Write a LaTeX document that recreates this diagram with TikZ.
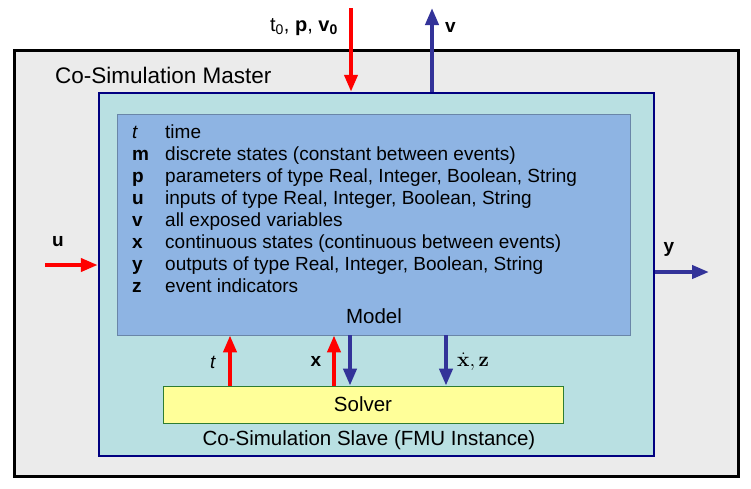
\documentclass[tikz,border=0pt]{standalone}
\usepackage{amsmath}
\usepackage[no-math]{fontspec}
\setmainfont{Liberation Sans}
\usepackage{tikz}
\usetikzlibrary{arrows.meta,positioning}
\definecolor{mastergray}{HTML}{EBEBEB}
\definecolor{slavecyan}{HTML}{B9E0E2}
\definecolor{slaveblue}{HTML}{000080}
\definecolor{modelblue}{HTML}{8EB4E3}
\definecolor{modelline}{HTML}{6A86A8}
\definecolor{solveryellow}{HTML}{FFFF99}
\definecolor{solvergreen}{HTML}{2E7D32}
\definecolor{arrowred}{HTML}{FF0000}
\definecolor{arrowblue}{HTML}{333399}
\tikzset{
    master-box/.style = {draw=black, fill=mastergray, line width=3pt, rectangle, minimum width=724pt, minimum height=426pt, inner sep=0pt},
    slave-box/.style = {draw=slaveblue, fill=slavecyan, line width=2.5pt, rectangle, minimum width=555pt, minimum height=363pt, inner sep=0pt},
    model-box/.style = {draw=modelline, fill=modelblue, line width=0.8pt, rectangle, minimum width=513pt, minimum height=221pt, inner sep=0pt},
    solver-box/.style = {draw=solvergreen, fill=solveryellow, line width=0.8pt, rectangle, minimum width=400pt, minimum height=37pt, inner sep=0pt, font=\fontsize{20.5}{22}\selectfont},
    box-label/.style = {font=\fontsize{20.5}{22}\selectfont, inner sep=0pt},
    var-label/.style = {font=\fontsize{19}{22}\selectfont, inner sep=0pt},
    red-arrow/.style = {draw=arrowred, line width=4pt, -{Triangle[width=13pt,length=17pt]}},
    blue-arrow/.style = {draw=arrowblue, line width=4pt, -{Triangle[width=13pt,length=17pt]}},
}

\begin{document}
\begin{tikzpicture}[x=1pt, y=-1pt]
\useasboundingbox (0,0) rectangle (751,488);
% boxes
\node [master-box] (master) at (376,263) {};
\node [box-label, font=\fontsize{22.5}{24}\selectfont, anchor=west] (masterlabel) at (55,75) {Co-Simulation Master};
\node [slave-box] (slave) at (376.5,274.5) {};
\node [model-box] (model) at (373.5,224.5) {};
\node [solver-box] (solver) at (363,404.5) {Solver};
\node [box-label] (slavelabel) at (369,440) {Co-Simulation Slave (FMU Instance)};
\node [box-label] (modellabel) at (374,316) {Model};
% legend of variables
\node [var-label, anchor=north west] (legend) at (132,123) {%
  \begin{tabular}{@{}p{33pt}@{}l@{}}
    \textit{t} & time\\
    \textbf{m} & discrete states (constant between events)\\
    \textbf{p} & parameters of type Real, Integer, Boolean, String\\
    \textbf{u} & inputs of type Real, Integer, Boolean, String\\
    \textbf{v} & all exposed variables\\
    \textbf{x} & continuous states (continuous between events)\\
    \textbf{y} & outputs of type Real, Integer, Boolean, String\\
    \textbf{z} & event indicators
  \end{tabular}};
% signals of the master
\coordinate (parin) at (351,8);
\coordinate (vout) at (432,8);
\coordinate (uin) at (45,265);
\coordinate (yout) at (709,272);
\draw [red-arrow] (parin) -- (parin |- slave.north);
\draw [blue-arrow] (vout |- slave.north) -- (vout);
\draw [red-arrow] (uin) -- (uin -| slave.west);
\draw [blue-arrow] (yout -| slave.east) -- (yout);
\node [var-label, font=\fontsize{20}{22}\selectfont, anchor=east] (parlabel) at (338,27) {t\textsubscript{0}, \textbf{p}, \textbf{v\textsubscript{0}}};
\node [var-label, anchor=west] (vlabel) at (445,27) {\textbf{v}};
\node [var-label] (ulabel) at (58,242) {\textbf{u}};
\node [var-label] (ylabel) at (669,249) {\textbf{y}};
% signals between solver and model
\coordinate (tpos) at (230,0);
\coordinate (xup) at (334,0);
\coordinate (xdown) at (350,0);
\coordinate (derdown) at (446,0);
\draw [red-arrow] (tpos |- solver.north) -- (tpos |- model.south);
\draw [red-arrow] (xup |- solver.north) -- (xup |- model.south);
\draw [blue-arrow] (xdown |- model.south) -- (xdown |- solver.north);
\draw [blue-arrow] (derdown |- model.south) -- (derdown |- solver.north);
\node [var-label] (tlabel) at (213,362) {\textit{t}};
\node [var-label] (xlabel) at (316,361) {\textbf{x}};
\node [var-label, anchor=west] (derlabel) at (457,362) {\fontsize{20}{22}\selectfont$\dot{\mathbf{x}}{,}\,\mathbf{z}$};
\end{tikzpicture}
\end{document}
